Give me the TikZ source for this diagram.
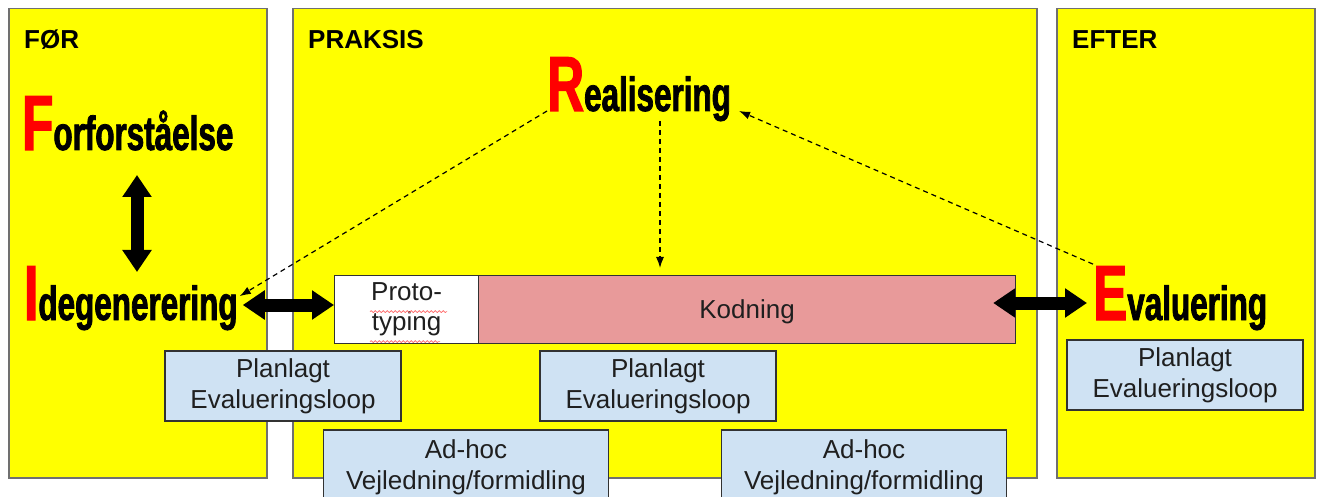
\documentclass[tikz,border=0pt]{standalone}
\usepackage{fontspec}
\setmainfont{Liberation Sans}
\newfontfamily\condfont[FakeStretch=0.655,FakeBold=1.6]{Liberation Sans}
\usetikzlibrary{arrows.meta,decorations.pathmorphing,calc}
\definecolor{panelfill}{RGB}{255,255,0}
\definecolor{panelline}{RGB}{112,112,112}
\definecolor{boxblue}{RGB}{207,226,243}
\definecolor{boxpink}{RGB}{232,154,154}
\definecolor{boxline}{RGB}{50,50,50}
\definecolor{inkred}{RGB}{255,0,0}
\newcommand\bigword[2]{{\condfont\bfseries\color{inkred}\fontsize{78}{78}\selectfont #1}{\condfont\bfseries\fontsize{48}{48}\selectfont #2}}
\tikzset{
  panel/.style={draw=panelline, line width=1.5pt, fill=panelfill, inner sep=0pt, anchor=north west},
  paneltitle/.style={anchor=base west, inner sep=0pt, font=\fontsize{26}{26}\selectfont\bfseries},
  stage/.style={anchor=base west, inner sep=0pt},
  infobox/.style={draw=boxline, line width=1.2pt, fill=boxblue, align=center, inner sep=0pt,
                  font=\fontsize{26}{31}\selectfont, text=black!88},
  workbox/.style={draw=boxline, line width=1.2pt, inner sep=0pt, anchor=north west,
                  font=\fontsize{26}{30}\selectfont, text=black!88},
  blockarrow/.style={line width=13pt, {Triangle[width=28pt,length=22pt]}-{Triangle[width=28pt,length=22pt]}},
  flow/.style={line width=1.2pt, dash pattern=on 5pt off 4pt, -{Latex[length=11pt,width=8pt]}},
  spellmark/.style={red!60, line width=0.7pt, decorate, decoration={snake, amplitude=0.9pt, segment length=4pt}}
}
\begin{document}
\begin{tikzpicture}[x=1pt,y=-1pt]
\useasboundingbox (0,0) rectangle (1320,497);
\clip (0,0) rectangle (1320,497);
\fill[white] (0,0) rectangle (1320,497);

% three phase panels
\node[panel, minimum width=258pt, minimum height=469pt] (foer) at (8,8) {};
\node[panel, minimum width=744pt, minimum height=469pt] (praksis) at (292,8) {};
\node[panel, minimum width=258pt, minimum height=469pt] (efter) at (1056,8) {};

\node[paneltitle] (tfoer) at (24,49) {FØR};
\node[paneltitle] (tpraksis) at (308,49) {PRAKSIS};
\node[paneltitle] (tefter) at (1072,49) {EFTER};

% stage words
\node[stage] (forf) at (22,150) {\bigword{F}{orforståelse}};
\node[stage] (ide) at (24,320) {\bigword{I}{degenerering}};
\node[stage] (real) at (547,111) {\bigword{R}{ealisering}};
\node[stage] (eval) at (1093,320) {\bigword{E}{valuering}};

% practice bar
\node[workbox, align=center, fill=white, minimum width=144pt, minimum height=68pt] (proto) at (334,275) {Proto-\\typing};
\node[workbox, fill=boxpink, minimum width=537pt, minimum height=68pt, text height=23pt] (kod) at (478,275) {Kodning};
\draw[spellmark] ($(proto.west)+(36,2)$) -- ++(77,0);
\draw[spellmark] ($(proto.west)+(36,32)$) -- ++(70,0);

% evaluation and guidance boxes
\node[infobox, minimum width=236pt, minimum height=70pt] (plan1) at (283,386) {Planlagt\\Evalueringsloop};
\node[infobox, minimum width=236pt, minimum height=70pt] (plan2) at (658,386) {Planlagt\\Evalueringsloop};
\node[infobox, minimum width=236pt, minimum height=70pt] (plan3) at (1185,375) {Planlagt\\Evalueringsloop};
\node[infobox, minimum width=285pt, minimum height=74pt] (adhoc1) at (466,467) {Ad-hoc\\Vejledning/formidling};
\node[infobox, minimum width=285pt, minimum height=74pt] (adhoc2) at (864,467) {Ad-hoc\\Vejledning/formidling};

% two-way block arrows
\coordinate (forfbot) at (137,175);
\coordinate (idetop) at (137,272);
\draw[blockarrow] (forfbot) -- (idetop);
\draw[blockarrow] ([xshift=5pt]ide.east |- 0,305) -- (proto.west |- 0,305);
\draw[blockarrow] ([xshift=-23pt]kod.east |- 0,303) -- ([xshift=-6pt]eval.west |- 0,303);

% dashed flows
\coordinate (realdown) at (660,121);
\coordinate (kodtop) at (660,268);
\draw[flow] (real.base west) -- ([xshift=2pt,yshift=-30pt]ide.north east);
\draw[flow] (realdown) -- (kodtop);
\draw[flow] ([yshift=2pt]eval.north west) -- ([xshift=8pt]real.base east);
\end{tikzpicture}
\end{document}
